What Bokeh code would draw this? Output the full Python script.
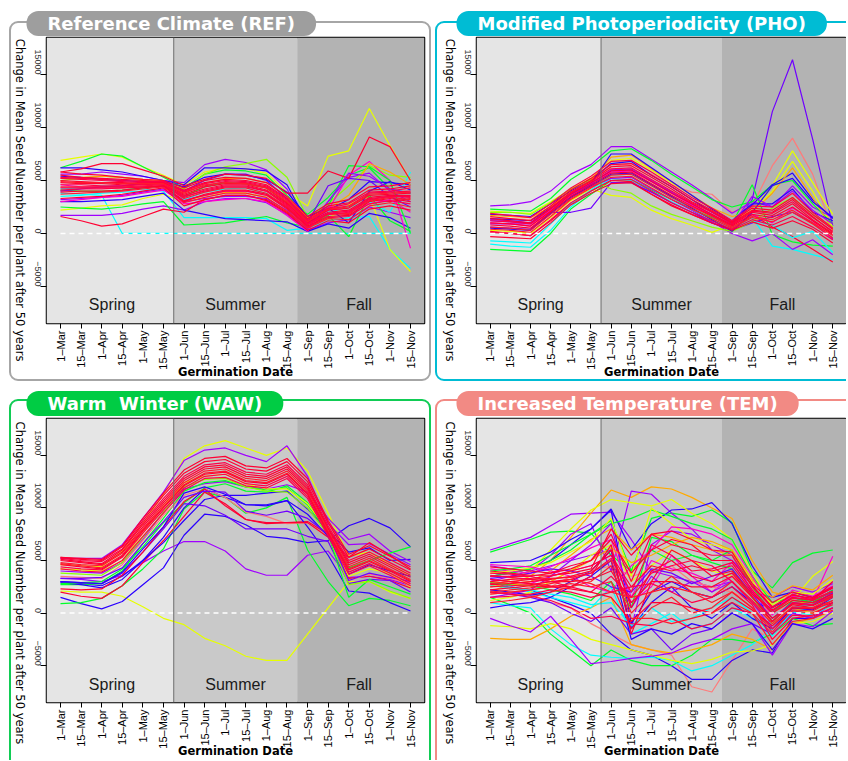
import math
from bokeh.plotting import figure
from bokeh.models import Label, FixedTicker, Range1d, Span, Title, LinearAxis
from bokeh.layouts import column, row
from bokeh.embed import file_html
from bokeh.resources import INLINE

# ---------------- data ----------------
DATES = ["1–Mar", "15–Mar", "1–Apr", "15–Apr", "1–May", "15–May",
         "1–Jun", "15–Jun", "1–Jul", "15–Jul", "1–Aug", "15–Aug",
         "1–Sep", "15–Sep", "1–Oct", "15–Oct", "1–Nov", "15–Nov"]
SEASONS = ["Spring", "Summer", "Fall"]
SEASON_FIRST = [0, 6, 12]
SEASON_LAST = [5, 11, 17]
Y_TICKS = [-5000, 0, 5000, 10000, 15000]
Y_LABEL = "Change in Mean Seed Nuember per plant after 50 years"
X_LABEL = "Germination Date"
TITLES = ["Reference Climate (REF)", "Modified Photoperiodicity (PHO)",
          "Warm  Winter (WAW)", "Increased Temperature (TEM)"]

RED, RED2, RED3 = "#FF0033", "#FF0048", "#FF1A2E"
MAG, PUR, VIO, BLU = "#FF00CC", "#A000FF", "#7000FF", "#2A00FF"
CYA, GRN, YGR, YEL, ORA, PNK = "#00FFFF", "#00FF2A", "#8CFF00", "#E6FF00", "#FFAA00", "#FF7A7A"

# values in thousands of seeds, one list per simulated line
REF_COLORS = [YEL, GRN, CYA, CYA, YEL, PUR, GRN, BLU, PUR, YGR, BLU, MAG, CYA, GRN, ORA, VIO, BLU, RED, RED, PUR, MAG,
              RED, RED2, RED3, RED, RED2, RED, RED3, RED2, RED, RED, RED2, RED3, RED, RED2]
REF_K = [
    [6.9, 7.2, 7.5, 7.2, 6.3, 5.5, 4.6, 5.8, 6.2, 6.1, 5.7, 3.9, 2.6, 7.3, 7.8, 11.8, 8.3, 5.0],
    [6.2, 6.8, 7.5, 7.3, 6.3, 5.3, 4.3, 5.6, 6.0, 5.9, 5.5, 3.6, 1.8, 3.4, 5.5, 6.2, 4.2, 3.8],
    [3.8, 3.7, 3.6, 0.0, 0.0, 0.0, 0.0, 0.0, 0.0, 0.0, 0.0, 0.0, 0.0, 0.0, 0.0, 0.0, 0.0, 0.0],
    [4.2, 4.3, 4.5, 4.4, 4.2, 4.0, 1.5, 1.5, 1.5, 1.5, 1.4, 0.3, 0.5, 1.2, 1.5, 1.6, -1.5, -3.3],
    [2.2, 2.4, 2.6, 2.7, 3.3, 3.7, 3.0, 3.6, 3.9, 3.8, 3.4, 2.0, 0.8, 1.4, 2.7, 3.5, -1.5, -3.6],
    [1.7, 1.7, 1.7, 1.9, 2.3, 2.6, 2.2, 3.0, 3.3, 3.3, 2.9, 1.8, 0.3, 1.0, 1.3, 2.5, 2.0, 1.5],
    [2.5, 2.4, 2.3, 2.5, 2.8, 3.0, 0.8, 0.9, 1.0, 1.3, 1.6, 1.0, 0.6, 1.7, -0.3, 3.6, 1.2, 0.2],
    [3.0, 3.0, 3.1, 3.2, 3.5, 3.8, 2.2, 1.8, 1.4, 1.3, 1.2, 1.1, 0.2, 0.9, 0.5, 1.9, 1.5, 0.5],
    [5.6, 5.6, 5.8, 5.6, 5.4, 5.0, 4.8, 6.5, 7.0, 6.7, 6.0, 4.2, 0.8, 3.0, 5.3, 5.7, 4.0, 3.0],
    [5.0, 5.2, 5.4, 5.3, 5.0, 4.8, 4.2, 5.6, 6.3, 6.6, 7.0, 5.3, 1.5, 2.8, 4.5, 6.4, 5.5, 5.3],
    [6.2, 6.2, 6.0, 5.8, 5.4, 5.0, 4.6, 6.2, 6.2, 6.1, 5.9, 4.6, 1.0, 2.2, 3.2, 4.9, 4.8, 4.6],
    [4.6, 4.4, 4.4, 4.5, 4.7, 4.8, 3.2, 3.6, 4.0, 4.0, 3.7, 2.5, 0.6, 2.2, 5.5, 6.8, 5.0, -1.4],
    [3.5, 3.6, 3.8, 3.9, 4.0, 4.1, 3.2, 3.9, 4.2, 4.3, 3.8, 2.3, 0.8, 2.0, 2.5, 3.0, 2.0, 5.8],
    [4.1, 4.0, 4.0, 4.1, 4.3, 4.5, 3.5, 4.4, 4.8, 4.7, 4.3, 2.9, 1.4, 2.6, 6.4, 6.3, 5.0, 0.0],
    [5.2, 5.3, 5.4, 5.3, 5.1, 5.0, 3.9, 4.7, 5.2, 5.2, 4.8, 3.5, 1.5, 2.3, 3.6, 6.6, 5.8, 4.6],
    [4.0, 4.2, 4.4, 4.5, 4.7, 4.9, 4.0, 5.0, 5.6, 5.6, 5.0, 3.3, 1.0, 4.5, 5.2, 5.0, 3.5, 2.5],
    [5.4, 5.3, 5.1, 5.0, 4.9, 4.9, 4.4, 5.3, 5.6, 5.5, 5.1, 3.9, 1.6, 2.4, 1.0, 4.0, 4.9, 4.1],
    [1.6, 1.2, 0.7, 0.9, 1.6, 2.3, 2.0, 3.2, 3.6, 3.6, 3.2, 2.0, 0.5, 1.9, 1.8, 3.3, 3.0, 3.3],
    [5.8, 6.1, 6.6, 6.6, 6.0, 5.4, 4.5, 5.1, 5.6, 5.5, 5.2, 3.8, 3.8, 5.9, 5.2, 9.1, 8.2, 5.0],
    [3.2, 3.3, 3.4, 3.6, 3.9, 4.2, 3.0, 3.3, 3.5, 3.5, 3.3, 2.2, 0.4, 3.0, 5.7, 5.4, 4.2, 3.8],
    [3.0, 3.2, 3.4, 3.5, 3.8, 4.1, 2.8, 3.0, 3.2, 3.3, 3.0, 1.7, 0.2, 2.6, 2.0, 2.8, 3.2, 2.0],
    [4.8, 4.7, 4.7, 4.6, 4.6, 4.7, 3.6, 4.2, 4.6, 4.6, 4.1, 2.8, 1.0, 2.0, 2.2, 3.4, 3.6, 3.6],
    [5.2, 5.1, 5.0, 4.9, 4.8, 4.8, 3.9, 4.5, 4.9, 4.8, 4.4, 3.1, 1.2, 2.3, 2.6, 3.8, 3.9, 4.0],
    [4.4, 4.4, 4.4, 4.4, 4.5, 4.6, 3.3, 3.9, 4.3, 4.3, 3.8, 2.5, 0.8, 1.8, 1.9, 3.1, 3.4, 3.2],
    [5.5, 5.3, 5.2, 5.1, 5.0, 4.9, 4.1, 4.8, 5.1, 5.0, 4.6, 3.3, 1.4, 2.6, 2.9, 4.1, 4.2, 4.5],
    [4.1, 4.2, 4.2, 4.3, 4.4, 4.5, 3.1, 3.6, 4.0, 4.0, 3.6, 2.3, 0.6, 1.5, 1.6, 2.8, 3.1, 2.8],
    [5.0, 4.9, 4.8, 4.8, 4.7, 4.8, 3.7, 4.4, 4.7, 4.7, 4.3, 2.9, 1.1, 2.2, 2.4, 3.6, 3.7, 3.8],
    [3.7, 3.8, 3.9, 4.0, 4.2, 4.4, 2.9, 3.4, 3.8, 3.8, 3.4, 2.1, 0.5, 1.4, 1.3, 2.6, 2.9, 2.5],
    [4.6, 4.6, 4.5, 4.5, 4.6, 4.6, 3.5, 4.0, 4.4, 4.4, 4.0, 2.6, 0.9, 1.9, 2.1, 3.2, 3.5, 3.4],
    [5.8, 5.6, 5.5, 5.3, 5.1, 5.0, 4.3, 5.0, 5.3, 5.2, 4.8, 3.5, 1.6, 2.8, 3.2, 4.4, 4.5, 4.8],
    [3.3, 3.4, 3.5, 3.7, 4.0, 4.3, 2.6, 3.2, 3.6, 3.6, 3.1, 1.9, 0.3, 1.2, 1.0, 2.3, 2.6, 2.2],
    [4.3, 4.3, 4.3, 4.3, 4.4, 4.5, 3.4, 4.1, 4.5, 4.5, 4.0, 2.7, 0.9, 1.8, 2.0, 3.3, 3.5, 3.5],
    [4.9, 4.8, 4.8, 4.7, 4.7, 4.7, 3.8, 4.6, 4.8, 4.7, 4.3, 3.0, 1.1, 2.3, 2.5, 3.7, 3.8, 3.9],
    [3.9, 4.0, 4.0, 4.1, 4.3, 4.5, 3.0, 3.7, 4.1, 4.1, 3.7, 2.4, 0.7, 1.6, 1.7, 3.0, 3.3, 3.0],
    [5.3, 5.2, 5.1, 5.0, 4.9, 4.9, 4.0, 4.7, 5.0, 4.9, 4.5, 3.2, 1.3, 2.4, 2.8, 3.9, 4.0, 4.3],
]

PHO_COLORS = [VIO, PNK, YEL, YEL, PUR, GRN, GRN, CYA, RED, PUR, BLU, VIO, MAG, ORA, BLU, CYA, YGR, BLU, PUR,
              RED, RED2, RED3, RED, RED2, RED, RED3, RED2, RED, RED]
PHO_K = [
    [1.2, 1.1, 1.0, 2.4, 3.8, 4.7, 5.9, 6.0, 4.9, 3.9, 2.7, 1.6, 0.6, 3.2, 11.5, 16.4, 8.9, 0.7],
    [1.5, 1.4, 1.3, 2.6, 4.0, 5.0, 6.3, 6.6, 5.6, 4.6, 3.9, 3.7, 2.0, 2.6, 6.4, 9.0, 5.6, 0.3],
    [2.1, 2.0, 1.9, 3.0, 4.2, 5.2, 6.9, 7.1, 6.0, 4.8, 3.6, 2.3, 1.2, 2.2, 4.5, 7.8, 4.8, 1.8],
    [0.3, 0.2, 0.0, 1.5, 3.1, 4.2, 3.6, 3.4, 2.2, 1.4, 0.8, 0.1, 0.8, 2.0, 4.0, 6.8, 4.0, 0.6],
    [2.6, 2.7, 3.0, 4.0, 5.6, 6.5, 8.2, 8.2, 7.0, 5.8, 4.6, 3.3, 1.9, 3.0, 2.5, 4.5, 2.5, 1.5],
    [2.3, 2.2, 2.1, 3.3, 5.1, 6.3, 7.8, 8.0, 6.9, 5.6, 4.4, 3.2, 2.5, 3.0, 4.6, 5.0, 2.8, 0.9],
    [-1.5, -1.6, -1.7, 0.0, 2.3, 3.7, 5.0, 5.1, 4.1, 3.2, 2.3, 1.5, 0.9, 4.6, -0.1, -0.8, -1.1, -1.2],
    [-1.0, -1.2, -1.3, 0.3, 2.5, 4.0, 5.2, 5.0, 4.0, 3.0, 2.0, 1.2, 0.5, 1.5, -1.2, -1.5, -2.0, -2.5],
    [0.2, 0.0, -0.2, 1.2, 2.8, 4.0, 5.0, 4.9, 3.7, 2.6, 1.8, 1.0, 0.4, 1.8, 0.6, -0.3, -1.5, -2.7],
    [0.9, 0.9, 0.9, 2.1, 3.5, 4.4, 5.2, 5.3, 4.2, 3.2, 2.2, 1.1, 0.0, -0.7, 0.0, -1.5, -0.6, -2.0],
    [1.8, 1.7, 1.6, 2.8, 4.0, 5.0, 6.6, 6.8, 5.5, 4.4, 3.2, 2.0, 1.0, 2.7, 4.6, 5.7, 3.2, 1.4],
    [0.6, 0.5, 0.4, 2.0, 2.0, 2.4, 4.8, 4.8, 3.9, 2.9, 2.0, 1.0, 0.3, 1.0, 1.6, 2.0, 1.0, -0.5],
    [1.0, 0.9, 0.7, 2.2, 3.6, 4.6, 5.8, 5.9, 4.9, 3.8, 2.7, 1.7, 0.8, 1.8, 1.0, 2.4, 1.2, -0.6],
    [1.7, 1.6, 1.5, 2.5, 3.9, 5.0, 7.2, 7.4, 6.1, 4.9, 3.6, 2.4, 1.6, 2.0, 3.8, 6.2, 3.4, 0.3],
    [1.4, 1.3, 1.2, 2.4, 3.7, 4.7, 7.5, 7.5, 6.2, 4.9, 3.6, 2.3, 1.2, 2.8, 2.8, 4.2, 2.0, 1.2],
    [-0.7, -0.8, -0.9, 0.9, 2.8, 4.1, 5.5, 5.6, 4.5, 3.4, 2.3, 1.3, 0.6, 1.2, 0.8, -0.4, 0.2, -1.8],
    [2.0, 2.0, 1.8, 2.9, 4.2, 5.1, 4.2, 3.8, 2.6, 1.8, 1.2, 0.6, 0.2, 1.1, 2.4, 3.4, 1.8, 0.6],
    [0.5, 0.4, 0.3, 1.9, 3.4, 4.5, 5.6, 5.7, 4.6, 3.5, 2.4, 1.3, 0.2, 2.0, 4.5, 5.2, 3.0, 1.5],
    [1.3, 1.2, 1.0, 2.3, 3.7, 4.7, 6.0, 6.1, 5.0, 3.9, 2.8, 1.8, 0.8, 3.5, 2.5, 4.0, 2.2, 0.9],
    [0.8, 0.7, 0.5, 2.0, 3.5, 4.6, 5.7, 5.8, 4.7, 3.6, 2.6, 1.7, 0.7, 1.8, 1.5, 2.5, 1.2, -0.1],
    [1.2, 1.1, 0.9, 2.3, 3.8, 4.9, 6.1, 6.2, 5.1, 4.0, 2.9, 2.0, 0.9, 2.1, 1.9, 3.0, 1.5, 0.2],
    [0.4, 0.3, 0.1, 1.6, 3.2, 4.3, 5.3, 5.4, 4.3, 3.2, 2.3, 1.4, 0.5, 1.5, 1.1, 2.0, 0.9, -0.4],
    [1.6, 1.4, 1.2, 2.6, 4.1, 5.2, 6.5, 6.6, 5.5, 4.4, 3.2, 2.2, 1.1, 2.4, 2.2, 3.4, 1.8, 0.4],
    [0.1, 0.0, -0.2, 1.3, 2.9, 4.0, 5.0, 5.1, 4.0, 2.9, 2.0, 1.2, 0.4, 1.3, 0.8, 1.6, 0.6, -0.6],
    [1.0, 0.9, 0.7, 2.1, 3.7, 4.8, 5.9, 6.0, 4.9, 3.8, 2.8, 1.8, 0.8, 2.0, 1.7, 2.8, 1.3, 0.0],
    [0.6, 0.5, 0.3, 1.8, 3.3, 4.4, 5.5, 5.6, 4.5, 3.4, 2.5, 1.6, 0.6, 1.6, 1.3, 2.2, 1.0, -0.2],
    [1.9, 1.7, 1.5, 2.8, 4.3, 5.4, 6.8, 6.9, 5.8, 4.6, 3.4, 2.4, 1.2, 2.6, 2.5, 3.8, 2.0, 0.5],
    [-0.3, -0.4, -0.5, 1.0, 2.7, 3.8, 4.7, 4.8, 3.7, 2.7, 1.8, 1.0, 0.3, 1.1, 0.5, 1.2, 0.4, -0.9],
    [1.4, 1.2, 1.0, 2.4, 3.9, 5.0, 6.3, 6.4, 5.3, 4.2, 3.0, 2.1, 1.0, 2.2, 2.0, 3.2, 1.6, 0.1],
]

WAW_COLORS = [YEL, PUR, BLU, GRN, RED, YEL, PUR, BLU, PUR, GRN, BLU, VIO, PNK, GRN, YGR, RED, BLU, VIO, YEL,
              RED, RED2, RED3, RED, RED2, RED, RED3, RED2, RED, RED]
WAW_K = [
    [2.1, 2.0, 2.0, 1.6, 0.6, -0.5, -1.1, -2.4, -3.1, -4.1, -4.5, -4.5, -2.0, 0.5, 3.0, 3.0, 2.0, 1.4],
    [3.3, 3.2, 3.0, 3.6, 4.8, 5.9, 6.8, 6.8, 5.9, 4.2, 3.6, 3.6, 5.5, 5.9, 3.4, 3.5, 3.2, 2.6],
    [1.5, 0.9, 0.4, 1.1, 2.7, 4.3, 7.4, 9.4, 9.2, 8.4, 7.3, 7.1, 6.7, 6.9, 8.3, 9.0, 8.1, 6.3],
    [0.9, 1.0, 1.4, 2.6, 4.2, 6.1, 9.9, 11.5, 11.0, 9.5, 10.0, 11.0, 6.0, 3.0, 0.7, 1.4, 1.2, 0.7],
    [2.0, 1.6, 1.4, 2.6, 4.8, 6.9, 9.2, 11.5, 10.4, 8.9, 8.5, 8.6, 8.7, 7.5, 3.3, 3.5, 3.1, 2.4],
    [4.6, 4.5, 4.4, 5.9, 8.5, 11.3, 14.7, 15.9, 16.4, 15.7, 15.0, 15.7, 13.5, 9.5, 5.4, 5.8, 4.6, 3.6],
    [5.2, 5.2, 5.2, 6.5, 9.0, 11.5, 14.5, 15.5, 15.7, 15.0, 14.4, 15.9, 13.0, 8.5, 6.5, 6.6, 5.6, 4.6],
    [3.0, 2.8, 2.6, 3.5, 5.0, 6.7, 8.8, 10.8, 11.2, 11.2, 11.4, 11.6, 9.9, 7.8, 5.8, 6.2, 5.0, 5.1],
    [4.0, 3.9, 3.8, 4.8, 7.0, 9.6, 11.8, 12.3, 12.5, 12.0, 11.8, 12.2, 11.5, 9.0, 7.0, 7.5, 5.9, 4.9],
    [2.7, 2.7, 2.8, 4.0, 6.6, 9.0, 11.6, 12.4, 12.6, 12.0, 11.7, 11.9, 10.3, 7.6, 4.3, 5.0, 5.7, 6.3],
    [2.9, 2.7, 2.4, 3.2, 5.0, 7.2, 10.0, 11.8, 11.0, 10.3, 10.2, 10.7, 8.2, 5.5, 2.1, 1.9, 1.0, 0.2],
    [3.0, 2.9, 2.8, 3.8, 5.8, 8.0, 10.4, 10.2, 9.3, 8.0, 8.0, 8.0, 7.3, 6.8, 2.8, 3.2, 3.1, 2.0],
    [3.5, 3.4, 3.3, 4.6, 6.9, 9.3, 11.2, 11.8, 11.0, 9.6, 9.2, 8.5, 8.6, 7.2, 3.1, 3.7, 3.3, 2.8],
    [2.8, 2.9, 3.0, 4.2, 6.3, 8.6, 10.5, 11.9, 12.3, 11.6, 11.5, 12.1, 10.5, 7.5, 1.5, 3.2, 2.5, 1.8],
    [3.8, 3.7, 3.6, 4.8, 7.2, 9.6, 12.0, 12.7, 12.8, 12.0, 11.6, 11.5, 10.0, 7.4, 2.7, 3.0, 2.1, 1.4],
    [2.3, 2.2, 2.3, 3.6, 5.8, 8.2, 10.6, 11.8, 10.2, 8.9, 8.6, 8.6, 8.6, 7.2, 5.3, 6.7, 5.5, 4.2],
    [3.0, 2.9, 2.8, 3.9, 6.1, 8.2, 11.4, 12.0, 11.3, 10.3, 10.3, 10.7, 9.4, 7.3, 3.7, 4.6, 4.0, 3.5],
    [3.3, 3.3, 3.4, 4.3, 6.6, 8.7, 11.0, 11.6, 11.5, 9.7, 9.3, 9.7, 9.0, 7.5, 3.1, 3.8, 3.4, 3.0],
    [4.2, 4.1, 4.0, 5.0, 7.6, 10.1, 12.4, 13.0, 13.2, 12.3, 11.8, 11.8, 10.4, 7.8, 3.5, 4.2, 3.8, 2.5],
    [5.0, 4.8, 4.6, 5.8, 8.2, 10.5, 12.6, 13.7, 13.9, 13.0, 12.8, 13.7, 11.8, 8.0, 4.6, 5.4, 4.4, 3.4],
    [5.2, 5.0, 4.9, 6.1, 8.6, 10.9, 13.0, 14.1, 14.3, 13.4, 13.2, 14.1, 12.2, 8.3, 5.0, 5.8, 4.8, 3.8],
    [4.7, 4.5, 4.3, 5.5, 7.9, 10.1, 12.2, 13.3, 13.5, 12.6, 12.4, 13.3, 11.4, 7.7, 4.2, 5.0, 4.1, 3.1],
    [5.3, 5.1, 5.0, 6.3, 8.8, 11.2, 13.3, 14.4, 14.6, 13.7, 13.5, 14.4, 12.5, 8.6, 5.3, 6.1, 5.1, 4.1],
    [4.4, 4.2, 4.1, 5.3, 7.6, 9.8, 11.9, 13.0, 13.2, 12.3, 12.1, 13.0, 11.1, 7.5, 3.9, 4.7, 3.8, 2.8],
    [5.1, 4.9, 4.7, 6.0, 8.4, 10.7, 12.8, 13.9, 14.1, 13.2, 13.0, 13.9, 12.0, 8.1, 4.8, 5.6, 4.6, 3.6],
    [4.8, 4.6, 4.5, 5.7, 8.0, 10.3, 12.4, 13.5, 13.7, 12.8, 12.6, 13.5, 11.6, 7.8, 4.4, 5.2, 4.2, 3.2],
    [4.2, 4.0, 3.9, 5.0, 7.3, 9.5, 11.7, 12.8, 12.9, 12.1, 11.9, 12.8, 10.9, 7.3, 3.7, 4.5, 3.6, 2.6],
    [5.3, 5.2, 5.1, 6.4, 9.0, 11.4, 13.6, 14.7, 14.9, 14.0, 13.8, 14.7, 12.8, 8.8, 5.6, 6.4, 5.4, 4.4],
    [4.6, 4.4, 4.2, 5.4, 7.8, 10.0, 12.1, 13.2, 13.4, 12.5, 12.3, 13.2, 11.3, 7.6, 4.1, 4.9, 4.0, 3.0],
]

TEM_COLORS = [PUR, GRN, ORA, PUR, BLU, YEL, PNK, BLU, GRN, CYA, ORA, YEL, PUR, PUR, BLU, GRN, MAG, CYA, ORA,
              YEL, VIO, BLU, PNK, GRN, MAG, GRN, BLU, YEL, PUR, ORA, CYA, MAG, VIO,
              RED, RED2, RED3, RED, RED2, RED, RED3, RED2, RED, RED, RED2, RED3, RED, RED2, RED3, RED]
TEM_K = [
    [6.0, 6.6, 7.2, 8.3, 9.4, 9.5, 9.6, 7.0, 4.0, 3.5, 3.0, 2.5, 3.0, 1.0, -1.0, 0.5, 0.8, 1.5],
    [5.8, 6.4, 7.0, 7.7, 7.8, 7.6, 5.5, 4.0, 9.0, 9.5, 9.2, 9.8, 8.6, 4.0, 2.4, 4.8, 5.7, 6.0],
    [2.0, 2.8, 3.5, 5.0, 7.2, 9.5, 11.7, 11.0, 12.0, 11.8, 11.0, 10.0, 9.0, 5.0, 2.0, 1.5, 1.0, 1.8],
    [3.0, 3.5, 4.0, 5.5, 7.5, 8.5, 4.0, 11.6, 11.3, 9.5, 8.0, 6.0, 5.0, 3.0, -1.5, 0.5, 0.8, 2.0],
    [3.5, 3.8, 4.2, 5.0, 6.5, 8.0, 9.9, 6.0, 8.5, 9.8, 9.9, 10.5, 8.5, 4.5, 1.5, 2.0, 1.5, 2.5],
    [2.5, 3.2, 4.0, 6.0, 8.0, 9.8, 10.8, 10.5, 10.2, 10.8, 9.5, 8.5, 7.0, 4.0, 0.5, 1.2, 3.5, 4.9],
    [2.2, 2.0, 1.8, 1.0, 0.5, -1.0, -2.0, -3.0, -3.5, -4.0, -7.0, -7.5, -4.5, -1.5, -2.5, -0.5, -0.2, 0.5],
    [2.8, 2.5, 2.2, 1.5, 0.8, 0.0, -2.0, -3.5, -4.0, -5.0, -6.3, -6.3, -4.5, -3.5, -3.8, -0.5, -0.5, 0.5],
    [1.5, 0.8, 0.0, -2.0, -3.5, -5.0, -3.5, -4.5, -5.0, -5.0, -4.0, -2.5, -2.5, -2.8, -2.0, -0.5, -1.2, -1.0],
    [1.0, 0.7, 0.5, -1.5, -3.0, -4.0, -4.2, -4.3, -4.2, -4.5, -5.5, -5.0, -4.0, -3.0, -1.5, 0.0, 0.5, 0.8],
    [-2.4, -2.5, -2.5, -1.5, -0.3, 0.5, 1.5, -3.0, -3.5, -3.8, -3.5, -3.0, -2.0, -2.5, -3.5, -1.0, -0.5, 0.2],
    [-1.2, -1.3, -1.5, -1.0, -1.5, -2.5, -3.0, -3.5, -4.0, -4.5, -4.8, -4.4, -3.7, -3.6, -3.0, -1.0, -0.8, 0.0],
    [-0.5, -1.2, -1.8, -0.3, -2.5, -4.8, -4.6, -4.3, -4.1, -3.8, -3.0, -2.5, -1.5, -1.0, -4.0, -1.0, -1.3, 0.2],
    [4.5, 4.2, 4.0, 4.5, 5.0, 5.5, 6.0, -1.5, 6.5, 7.8, 7.5, 6.5, 5.5, 2.0, 1.5, 2.5, 2.0, 2.8],
    [4.8, 4.9, 5.0, 5.8, 7.0, 8.0, 9.8, -1.0, 2.0, 3.0, 2.0, 1.5, 2.5, 1.0, 0.5, 1.5, 1.0, 2.2],
    [3.5, 3.8, 4.2, 5.0, 6.0, 7.5, 8.5, 9.0, 9.8, 9.2, 8.5, 8.0, 7.0, 3.5, 1.0, 1.5, 1.2, 2.0],
    [3.2, 3.0, 2.8, 3.5, 4.0, 4.5, 5.5, 1.0, 2.5, 5.5, 3.5, 2.0, 3.5, 2.0, 0.0, 1.8, 1.2, 5.4],
    [3.0, 2.5, 2.0, 1.5, 1.0, 0.5, 2.5, -2.0, -1.0, 0.0, -1.5, -1.0, 0.5, -0.5, -1.0, 0.5, 0.8, 1.2],
    [2.5, 2.8, 3.0, 4.0, 5.5, 7.0, 8.0, 6.0, 7.5, 7.2, 6.5, 6.0, 5.5, 2.5, -0.5, 1.0, 1.0, 1.5],
    [1.2, 1.5, 2.0, 3.0, 4.0, 5.5, 6.5, 3.0, 4.5, 6.0, 5.0, 4.0, 3.5, 1.5, -1.0, 0.5, 0.0, 0.8],
    [2.0, 1.8, 1.5, 1.0, 0.0, -0.8, 0.5, -2.0, -1.5, -3.5, -2.0, -1.5, 0.0, -1.0, -2.0, 0.0, -0.5, 1.0],
    [2.2, 2.0, 1.7, 2.0, 3.0, 4.0, 6.0, -1.5, 1.0, 2.5, 0.5, -0.5, 1.0, -0.5, -1.5, 0.5, 0.3, 1.5],
    [1.8, 2.0, 2.2, 2.5, 3.5, 4.0, 4.5, 3.5, 4.0, 4.5, 3.0, 2.5, 2.0, 1.0, 0.0, 1.0, 0.8, 1.8],
    [2.9, 2.7, 2.6, 2.2, 1.8, 1.2, 3.0, 0.5, 7.2, 6.8, 5.5, 4.8, 4.2, 1.5, -0.8, 1.2, 1.0, 1.6],
    [4.2, 4.0, 3.8, 4.4, 5.2, 6.2, 7.0, 1.5, 5.0, 4.2, 3.8, 3.0, 4.8, 2.2, -0.2, 2.2, 1.6, 2.6],
    [4.0, 4.2, 4.5, 5.5, 6.5, 7.5, 8.8, 4.0, 6.0, 5.0, 5.5, 5.0, 6.0, 2.5, 0.0, 1.5, 1.0, 2.2],
    [0.5, 0.8, 1.0, 1.5, 2.5, 3.5, 5.0, -2.5, -1.5, -2.0, -1.0, -1.5, 0.0, -1.0, -3.5, -1.0, -1.5, -0.5],
    [3.8, 4.0, 4.3, 4.8, 5.8, 6.8, 9.0, 3.5, 10.0, 8.5, 7.0, 6.5, 6.0, 3.0, 0.8, 2.0, 1.8, 3.2],
    [1.5, 1.8, 2.2, 3.5, 5.0, 6.5, 8.5, 0.5, 3.5, 2.0, 3.0, 2.0, 3.0, 1.0, -1.5, 0.0, -0.5, 0.5],
    [3.0, 2.8, 2.6, 3.0, 4.0, 5.0, 6.2, 4.8, 5.5, 6.5, 7.2, 6.8, 6.0, 3.2, 1.5, 2.6, 2.2, 3.6],
    [2.6, 2.4, 2.2, 1.8, 1.5, 0.8, 1.0, -1.2, 0.5, -0.8, -0.5, 0.5, 1.5, 0.0, -2.2, 0.2, -0.2, 0.8],
    [4.6, 4.5, 4.4, 4.0, 3.5, 2.5, 2.0, 4.5, 6.0, 8.2, 8.0, 7.5, 6.5, 3.5, 0.2, 1.6, 1.4, 2.4],
    [3.3, 3.5, 3.8, 4.2, 4.0, 3.5, 2.5, 2.0, 4.2, 3.8, 2.8, 3.5, 4.2, 1.8, -0.5, 1.0, 0.8, 1.9],
    [2.5, 2.6, 2.7, 3.0, 3.0, 3.2, 4.0, 1.0, 3.0, 3.0, 2.5, 2.5, 3.5, 1.5, -0.5, 0.8, 0.5, 1.2],
    [3.5, 3.5, 3.5, 3.8, 4.5, 5.0, 7.5, 3.0, 7.5, 6.5, 6.0, 5.5, 5.5, 2.5, 0.5, 1.8, 1.2, 2.0],
    [1.8, 2.0, 2.2, 2.5, 2.8, 2.5, 3.0, -1.5, 0.5, 1.5, 0.0, 0.5, 2.0, 0.5, -1.5, 0.2, 0.0, 0.8],
    [3.0, 3.2, 3.3, 3.5, 4.0, 4.5, 5.5, 2.5, 4.5, 4.0, 4.5, 4.0, 4.5, 2.0, 0.0, 1.2, 1.0, 1.8],
    [2.0, 1.8, 1.6, 1.2, 0.5, -0.5, -0.3, -1.0, -1.2, -0.5, -1.5, -1.0, 0.5, 0.0, -2.0, -0.2, -0.3, 0.5],
    [4.0, 3.8, 3.6, 3.6, 3.8, 4.2, 8.0, 5.5, 7.5, 7.8, 7.0, 6.0, 5.8, 2.8, 1.0, 2.0, 1.5, 2.5],
    [2.8, 3.0, 3.2, 3.3, 3.4, 3.8, 5.0, 0.0, 2.0, 3.5, 2.0, 1.5, 3.0, 1.0, -1.0, 0.6, 0.5, 1.5],
    [1.5, 1.6, 1.8, 2.2, 2.0, 1.5, 2.0, 2.5, 2.8, 2.0, 1.0, 1.5, 2.5, 0.8, -2.5, -0.5, -0.2, 1.0],
    [3.2, 3.0, 2.8, 2.6, 2.5, 3.5, 6.5, -2.0, 3.0, 6.0, 5.0, 3.5, 4.0, 1.8, 0.3, 1.5, 1.2, 3.0],
    [2.2, 2.4, 2.6, 2.5, 2.3, 2.0, 1.5, -0.8, 1.0, 1.0, 0.5, 0.0, 1.5, 0.3, -1.2, 0.5, 0.4, 1.0],
    [3.8, 3.7, 3.5, 3.0, 2.5, 2.0, 3.5, 1.5, 3.8, 4.5, 5.0, 4.5, 3.0, 1.2, -0.8, 1.0, 0.8, 1.7],
    [1.0, 1.2, 1.5, 2.0, 2.5, 3.0, 4.5, -0.5, -0.5, -1.0, -0.5, 0.0, 1.0, 0.0, -3.0, -0.8, -0.5, 0.3],
    [2.7, 2.8, 3.0, 3.2, 3.5, 4.0, 6.0, 0.5, 4.0, 5.0, 3.5, 3.0, 3.8, 1.6, -0.8, 0.9, 0.7, 1.6],
    [3.6, 3.4, 3.2, 3.0, 3.2, 3.8, 5.2, 2.0, 6.5, 5.5, 4.0, 4.2, 4.8, 2.2, 0.2, 1.4, 1.3, 2.1],
    [2.0, 2.2, 2.4, 2.8, 3.2, 2.8, 2.0, 1.5, 2.0, 2.5, 2.0, 1.0, 2.0, 0.5, -1.8, 0.3, 0.2, 1.2],
    [4.4, 4.2, 4.0, 3.8, 4.2, 5.0, 7.0, 3.8, 6.0, 7.0, 6.5, 5.0, 5.0, 2.6, 0.6, 1.7, 1.4, 2.4],
]

ACCENTS = ["#9E9E9E", "#00BCD4", "#00CC44", "#F28A84"]
FRAMES = ["#A6A6A6", "#00BCD4", "#11CC55", "#F28A84"]
SEASON_FILLS = ["#E5E5E5", "#C9C9C9", "#B3B3B3"]

X_PAD = 0.68
Y_MIN, Y_MAX = -8500, 18500
Y_TITLE_AT = -4850   # anchor of the y-axis title, in data units


def frame_css(color, left, top, right, bottom):
    return (":host{position:relative;overflow:hidden;}\n"
            ":host::before{content:'';position:absolute;"
            f"left:{left}px;top:{top}px;right:{right}px;bottom:{bottom}px;"
            f"border:2.5px solid {color};border-radius:9px;box-sizing:border-box;pointer-events:none;}}")


def make_panel(title, accent, frame_color, colors, series_k, width, height,
               mb_left, mb_right, mb_top, mb_bottom, css_box, title_standoff):
    n = len(DATES)
    p = figure(width=width, height=height, output_backend="svg", toolbar_location=None,
               x_range=Range1d(-X_PAD, n - 1 + X_PAD), y_range=Range1d(Y_MIN, Y_MAX),
               min_border_left=mb_left, min_border_right=mb_right,
               min_border_top=mb_top, min_border_bottom=mb_bottom)
    p.border_fill_color = None
    p.background_fill_color = SEASON_FILLS[0]
    p.outline_line_color = "black"
    p.outline_line_width = 1.5
    p.xgrid.visible = False
    p.ygrid.visible = False
    p.stylesheets = [frame_css(frame_color, *css_box)]

    p.title = Title(text=title.replace("  ", "\u00a0 "), align="left", offset=-20, standoff=title_standoff,
                    text_font="DejaVu Sans", text_font_style="bold", text_font_size="18px",
                    text_color="white", background_fill_color=accent,
                    padding=dict(left=21, right=21, top=2, bottom=2), border_radius=12)

    # season backgrounds
    lefts, rights = [], []
    for i in range(len(SEASONS)):
        lefts.append(-X_PAD if i == 0 else (SEASON_LAST[i - 1] + SEASON_FIRST[i]) / 2)
        rights.append(n - 1 + X_PAD if i == len(SEASONS) - 1 else (SEASON_LAST[i] + SEASON_FIRST[i + 1]) / 2)
    p.quad(left=lefts, right=rights, bottom=Y_MIN, top=Y_MAX, fill_color=SEASON_FILLS, line_color=None)
    p.add_layout(Span(location=rights[0], dimension="height", line_color="#6E6E6E", line_width=1))

    for i, s in enumerate(SEASONS):
        p.add_layout(Label(x=(SEASON_FIRST[i] + SEASON_LAST[i]) / 2, y=-6750, text=s,
                           text_align="center", text_baseline="middle",
                           text_font="Liberation Sans", text_font_size="16px",
                           text_color="#1A1A1A"))

    xs = [list(range(len(s))) for s in series_k]
    ys = [[v * 1000 for v in s] for s in series_k]
    p.multi_line(xs=xs, ys=ys, line_color=colors, line_width=1.2)
    p.line(x=[0, n - 1], y=[0, 0], line_color="white", line_width=1.5, line_dash="5 4")

    # x axis
    xa = p.xaxis[0]
    xa.ticker = FixedTicker(ticks=list(range(n)))
    xa.major_label_overrides = {i: d for i, d in enumerate(DATES)}
    xa.major_label_orientation = math.pi / 2
    xa.major_label_text_font = "Liberation Sans"
    xa.major_label_text_font_size = "11px"
    xa.major_label_text_color = "black"
    xa.major_label_standoff = 2
    xa.major_tick_out = 5
    xa.major_tick_in = 0
    xa.major_tick_line_color = "black"
    xa.minor_tick_line_color = None
    xa.axis_line_color = None
    xa.axis_label = X_LABEL
    xa.axis_label_text_font = "DejaVu Sans"
    xa.axis_label_text_font_style = "bold"
    xa.axis_label_text_font_size = "11.5px"
    xa.axis_label_text_color = "black"
    xa.axis_label_standoff = -8

    # y axis (ticks)
    ya = p.yaxis[0]
    ya.ticker = FixedTicker(ticks=Y_TICKS)
    ya.major_label_overrides = {t: str(t).replace("-", "−") for t in Y_TICKS}
    ya.major_label_orientation = -math.pi / 2
    ya.major_label_text_font = "Liberation Sans"
    ya.major_label_text_font_size = "9px"
    ya.major_label_text_color = "#333333"
    ya.major_label_standoff = 3
    ya.major_tick_out = 6
    ya.major_tick_in = 0
    ya.major_tick_line_color = "black"
    ya.minor_tick_line_color = None
    ya.axis_line_color = None

    # y axis title, reading top to bottom
    yt = LinearAxis(ticker=FixedTicker(ticks=[Y_TITLE_AT]),
                    major_label_overrides={Y_TITLE_AT: Y_LABEL},
                    major_label_orientation=-math.pi / 2,
                    major_label_text_font="DejaVu Sans", major_label_text_font_size="11.5px",
                    major_label_text_color="black", major_label_standoff=9,
                    major_tick_out=0, major_tick_in=0, major_tick_line_color=None,
                    minor_tick_line_color=None, axis_line_color=None)
    p.add_layout(yt, "left")
    return p


p1 = make_panel(TITLES[0], ACCENTS[0], FRAMES[0], REF_COLORS, REF_K, 432, 381, 46, 8, 37, 58,
                (9, 21, 1, 0), 3)
p2 = make_panel(TITLES[1], ACCENTS[1], FRAMES[1], PHO_COLORS, PHO_K, 414, 381, 41, 0, 37, 58,
                (3, 21, -10, 0), 3)
p3 = make_panel(TITLES[2], ACCENTS[2], FRAMES[2], WAW_COLORS, WAW_K, 432, 379, 46, 8, 37, 57,
                (9, 18, 1, -10), 5)
p4 = make_panel(TITLES[3], ACCENTS[3], FRAMES[3], TEM_COLORS, TEM_K, 414, 379, 41, 0, 37, 57,
                (3, 18, -10, -10), 5)

layout = column(row(p1, p2), row(p3, p4))
open("out.html", "w").write(file_html(layout, INLINE, title="Seed number change"))
